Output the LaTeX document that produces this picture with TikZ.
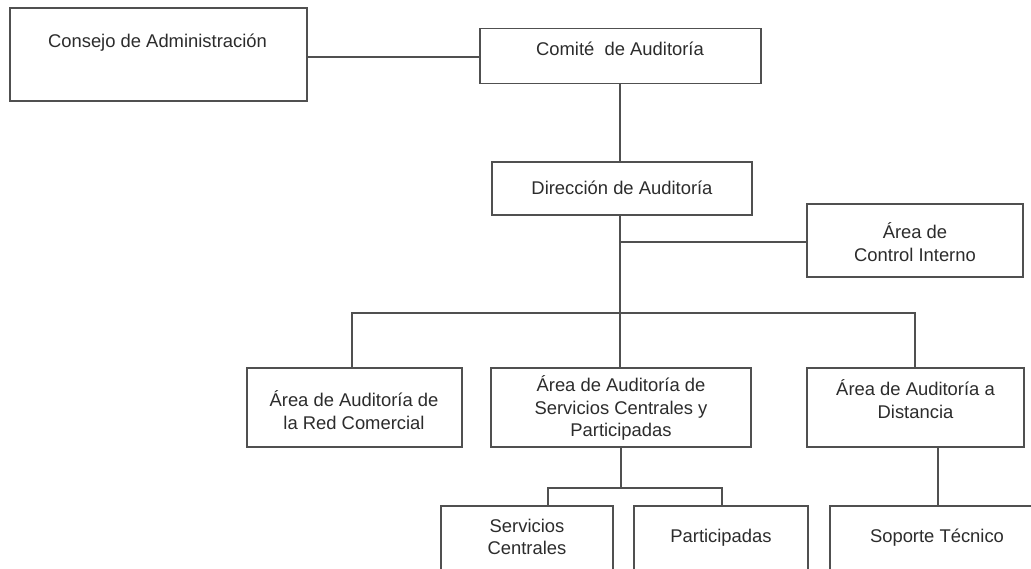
\documentclass[tikz,border=0pt]{standalone}
\usepackage{fontspec}
\setmainfont{Liberation Sans}
\begin{document}
\begin{tikzpicture}[x=1pt,y=-1pt,
  box/.style={draw=linegray, line width=1.5pt, fill=white, inner sep=0pt, outer sep=0pt},
  conn/.style={draw=linegray, line width=1.5pt},
  lbl/.style={text=textgray, align=center, inner sep=0pt,
    font=\fontsize{18.4}{22.5}\selectfont}]
\definecolor{linegray}{HTML}{505050}
\definecolor{textgray}{HTML}{2C2C2C}
\useasboundingbox (0,0) rectangle (1031,568);
\clip (0,0) rectangle (1031,568);
\fill[white] (0,0) rectangle (1031,568);

% boxes
\node[box, minimum width=297pt, minimum height=93pt] (cons) at (158.5,54.5) {};
\node[box, minimum width=281pt, minimum height=55pt] (comite) at (620.5,56) {};
\node[box, minimum width=260pt, minimum height=53pt] (dir) at (622,188.5) {};
\node[box, minimum width=216pt, minimum height=73pt] (ctrl) at (915,240.5) {};
\node[box, minimum width=215pt, minimum height=79pt] (red) at (354.5,407.5) {};
\node[box, minimum width=260pt, minimum height=79pt] (scp) at (621,407.5) {};
\node[box, minimum width=217pt, minimum height=79pt] (dist) at (915.5,407.5) {};
\node[box, minimum width=172pt, minimum height=114pt] (sc) at (527,563) {};
\node[box, minimum width=174pt, minimum height=114pt] (part) at (721,563) {};
\node[box, minimum width=216pt, minimum height=114pt] (sop) at (938,563) {};

% texts
\node[lbl] (cons-t) at (157.5,43) {Consejo de Administración};
\node[lbl] (comite-t) at (620,49) {Comité\ \ de Auditoría};
\node[lbl] (dir-t) at (622,188) {Dirección de Auditoría};
\node[lbl] (ctrl-t) at (915,242) {Área de\\Control Interno};
\node[lbl] (red-t) at (354,410) {Área de Auditoría de\\la Red Comercial};
\node[lbl] (scp-t) at (621,408) {Área de Auditoría de\\Servicios Centrales y\\Participadas};
\node[lbl] (dist-t) at (915.5,399) {Área de Auditoría a\\Distancia};
\node[lbl] (sc-t) at (527,537) {Servicios\\Centrales};
\node[lbl] (part-t) at (721,538) {Participadas};
\node[lbl] (sop-t) at (937,538) {Soporte Técnico};

% junction points
\coordinate (spine) at (620,313);
\coordinate (sub) at (621,488);
\coordinate (subl) at (548,488);
\coordinate (subr) at (722,488);
\coordinate (dd) at (938,447.5);

% connectors
\draw[conn] (cons.east |- 0,57) -- (comite.west |- 0,57);
\draw[conn] (comite.south -| spine) -- (dir.north -| spine);
\draw[conn] (dir.south -| spine) -- (spine);
\draw[conn] (ctrl.west |- 0,242) -- (spine |- 0,242);
\draw[conn] (red.north -| 352,0) -- (352,313) -- (spine) -- (915,313) -- (dist.north -| 915,0);
\draw[conn] (spine) -- (scp.north -| spine);
\draw[conn] (scp.south -| sub) -- (sub);
\draw[conn] (sc.north -| subl) -- (subl) -- (subr) -- (part.north -| subr);
\draw[conn] (dd) -- (sop.north -| dd);
\end{tikzpicture}
\end{document}
